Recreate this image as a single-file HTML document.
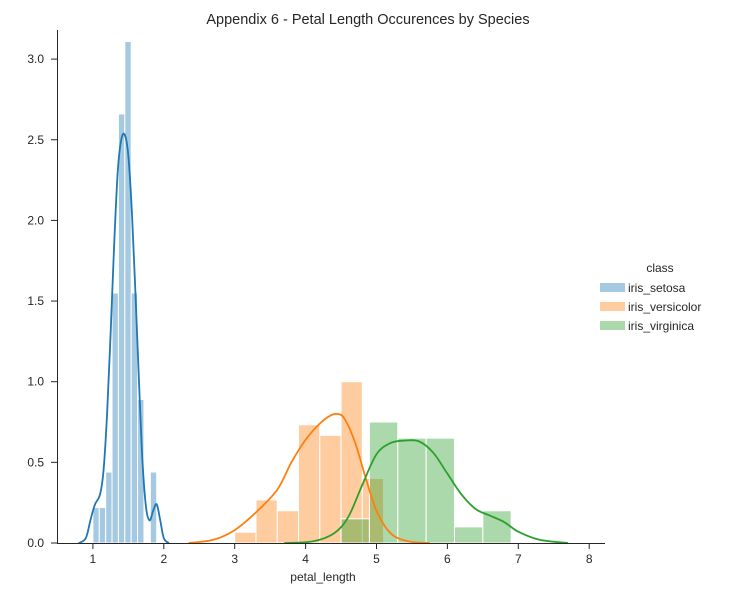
<!DOCTYPE html>
<html><head><meta charset="utf-8"><style>
body{margin:0;background:#fff;font-family:"Liberation Sans",sans-serif;}
svg text{font-family:"Liberation Sans",sans-serif;fill:#262626;}
</style></head><body>
<svg id="c" width="735" height="598">
<text x="368" y="24" text-anchor="middle" font-size="14.5">Appendix 6 - Petal Length Occurences by Species</text>
<g id="plot"></g>
<g id="legend">
<text x="660" y="272" text-anchor="middle" font-size="12">class</text>
</g>
</svg>
<script>
const setosaBins=[1.0,1.09,1.18,1.27,1.36,1.45,1.54,1.63,1.72,1.81,1.9];
const setosaDens=[0.22,0.22,0.44,1.55,2.66,3.11,1.55,0.89,0,0.44];
const versiBins=[3.0,3.3,3.6,3.9,4.2,4.5,4.8,5.1];
const versiDens=[0.067,0.267,0.2,0.733,0.667,1.0,0.4];
const virgBins=[4.5,4.9,5.3,5.7,6.1,6.5,6.9];
const virgDens=[0.15,0.75,0.65,0.65,0.1,0.2];
const setosaKdeX=[0.8,0.9,0.97,1.03,1.1,1.15,1.2,1.25,1.3,1.35,1.4,1.45,1.5,1.55,1.6,1.65,1.7,1.75,1.8,1.85,1.9,1.95,2.0,2.07];
const setosaKdeY=[0,0.03,0.15,0.24,0.3,0.45,0.8,1.3,1.85,2.3,2.5,2.53,2.4,2.05,1.55,1.0,0.5,0.22,0.14,0.2,0.24,0.14,0.03,0];
const versiKdeX=[2.35,2.7,3.0,3.3,3.6,3.8,4.0,4.2,4.35,4.45,4.55,4.7,4.85,5.0,5.2,5.45,5.75];
const versiKdeY=[0,0.02,0.08,0.19,0.33,0.5,0.64,0.74,0.79,0.8,0.77,0.62,0.4,0.2,0.06,0.01,0];
const virgKdeX=[3.7,4.1,4.4,4.6,4.8,5.0,5.2,5.4,5.6,5.8,6.0,6.2,6.4,6.6,6.8,7.0,7.3,7.7];
const virgKdeY=[0,0.01,0.06,0.16,0.36,0.55,0.62,0.635,0.63,0.56,0.43,0.3,0.21,0.17,0.13,0.07,0.02,0];
const xTicks=[1,2,3,4,5,6,7,8];
const yTicks=[0,0.5,1.0,1.5,2.0,2.5,3.0];
const species=["iris_setosa","iris_versicolor","iris_virginica"];
const colors=["#1f77b4","#ff7f0e","#2ca02c"];

const NS="http://www.w3.org/2000/svg";
const X=v=>22+v*70.9;
const Y=v=>543-v*161.3;
const plot=document.getElementById('plot');
function mk(t,a,p){const e=document.createElementNS(NS,t);for(const k in a)e.setAttribute(k,a[k]);(p||plot).appendChild(e);return e;}
function smooth(P){let d='M'+P[0][0]+','+P[0][1];for(let i=0;i<P.length-1;i++){const p0=P[i-1]||P[i],p1=P[i],p2=P[i+1],p3=P[i+2]||p2;
const c1=[p1[0]+(p2[0]-p0[0])/6,p1[1]+(p2[1]-p0[1])/6],c2=[p2[0]-(p3[0]-p1[0])/6,p2[1]-(p3[1]-p1[1])/6];
d+=' C'+c1[0]+','+Math.min(543,c1[1])+' '+c2[0]+','+Math.min(543,c2[1])+' '+p2[0]+','+p2[1];}return d;}

const sets=[[setosaBins,setosaDens,setosaKdeX,setosaKdeY],[versiBins,versiDens,versiKdeX,versiKdeY],[virgBins,virgDens,virgKdeX,virgKdeY]];
sets.forEach((s,k)=>{
  s[1].forEach((d,i)=>{
    if(d<=0)return;
    const r=mk('rect',{x:X(s[0][i]),y:Y(d),width:X(s[0][i+1])-X(s[0][i]),height:Y(0)-Y(d),fill:colors[k],'fill-opacity':0.4,stroke:'#fff','stroke-width':1});
    
    
  });
});
sets.forEach((s,k)=>{
  const P=s[2].map((x,i)=>[X(x),Y(s[3][i])]);
  const l=mk('path',{d:smooth(P),fill:'none',stroke:colors[k],'stroke-width':1.8,'stroke-linejoin':'round'});
  
  
});
const xa=mk('line',{x1:57,y1:543.5,x2:605,y2:543.5,stroke:'#262626','stroke-width':1});


const ya=mk('line',{x1:57.5,y1:30,x2:57.5,y2:543,stroke:'#262626','stroke-width':1});


xTicks.forEach(v=>{
  mk('line',{x1:X(v),y1:543,x2:X(v),y2:549,stroke:'#262626'});
  const t=mk('text',{x:X(v),y:563,'text-anchor':'middle','font-size':12});
  t.textContent=v;
  
  
});
yTicks.forEach(v=>{
  mk('line',{x1:51,y1:Y(v),x2:57,y2:Y(v),stroke:'#262626'});
  const t=mk('text',{x:44,y:Y(v)+4,'text-anchor':'end','font-size':12});
  t.textContent=v.toFixed(1);
  
  
});
const xl=mk('text',{x:323,y:581,'text-anchor':'middle','font-size':12});
xl.textContent='petal_length';


const lg=document.getElementById('legend');
species.forEach((s,i)=>{
  const y=288+i*19;
  const r=mk('rect',{x:600,y:y-5,width:25,height:9,fill:colors[i],'fill-opacity':0.4},lg);
  
  
  const t=mk('text',{x:628,y:y+4,'font-size':12},lg);
  t.textContent=s;
  
  
});
</script>
</body></html>
